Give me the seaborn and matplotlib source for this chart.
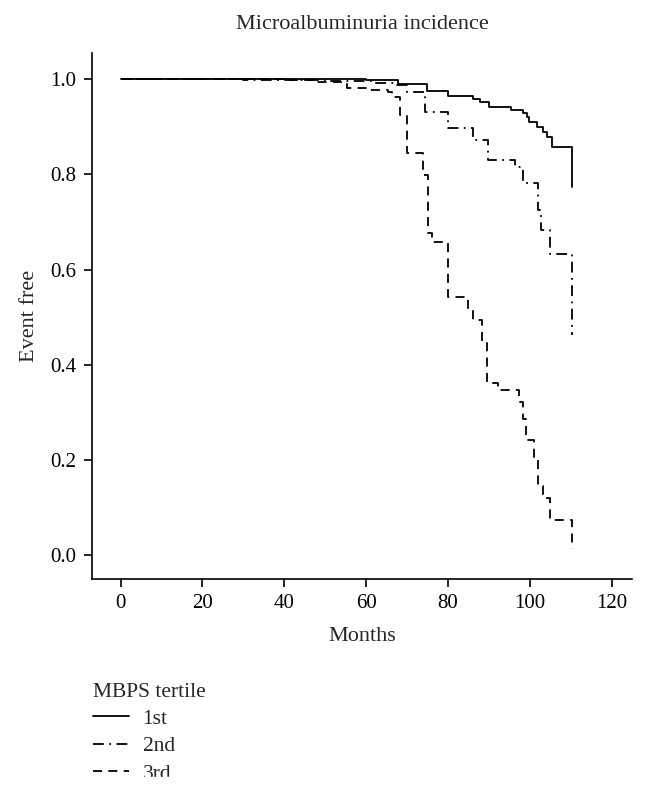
import pandas as pd
import seaborn as sns
import matplotlib.pyplot as plt
from matplotlib.patches import Rectangle

# Kaplan-Meier step points (months, event-free proportion)
t_1st = [0, 60, 67.8, 74.9, 80, 86, 87.8, 90, 95.4, 98.3, 99.2, 99.8, 101.7, 103.2, 104.1, 105.4, 110.2, 110.2]
s_1st = [1.0, 0.998, 0.99, 0.975, 0.964, 0.958, 0.952, 0.941, 0.935, 0.929, 0.92, 0.91, 0.90, 0.889, 0.878, 0.857, 0.857, 0.773]

t_2nd = [0, 30, 50, 62, 67.5, 70, 74.4, 80, 86.1, 89.8, 96.3, 98.3, 101.9, 102.8, 104.9, 110.2, 110.2]
s_2nd = [1.0, 0.998, 0.996, 0.993, 0.987, 0.973, 0.931, 0.897, 0.872, 0.830, 0.815, 0.782, 0.725, 0.683, 0.632, 0.632, 0.462]

t_3rd = [0, 40, 48, 55.4, 60.5, 65.4, 66.3, 68.3, 70, 73.9, 75.1, 76.1, 80, 84.9, 86.1, 88.3, 89.5, 92.2, 97.3,
         98.3, 99.1, 101.0, 101.9, 103.2, 104.9, 110.2, 110.2]
s_3rd = [1.0, 0.998, 0.995, 0.982, 0.977, 0.973, 0.962, 0.924, 0.845, 0.798, 0.676, 0.657, 0.542, 0.519, 0.494,
         0.445, 0.361, 0.347, 0.321, 0.286, 0.242, 0.20, 0.145, 0.12, 0.073, 0.073, 0.013]

groups = ['1st', '2nd', '3rd']
times = [t_1st, t_2nd, t_3rd]
surv = [s_1st, s_2nd, s_3rd]
dashes = {'2nd': (6, 3, 1, 3), '3rd': (5, 3.5)}

sns.set_style('ticks')
plt.rcParams['font.family'] = ['Liberation Serif', 'DejaVu Serif']

fig = plt.figure(figsize=(6.47, 7.92), dpi=100)
ax = fig.add_axes([0.142, 0.269, 0.835, 0.664])

for g, t, s in zip(groups, times, surv):
    df = pd.DataFrame({'Months': t, 'Event free': s})
    kw = {'dashes': dashes[g]} if g in dashes else {}
    sns.lineplot(data=df, x='Months', y='Event free', ax=ax, estimator=None, sort=False,
                 drawstyle='steps-post', color='black', lw=1.3, label=g, **kw)

ax.set_xlim(-7, 125)
ax.set_ylim(-0.05, 1.055)
ax.set_xticks(range(0, 121, 20))
ax.set_yticks([0.0, 0.2, 0.4, 0.6, 0.8, 1.0])
ax.set_yticklabels(['0.0', '0.2', '0.4', '0.6', '0.8', '1.0'])
ax.tick_params(labelsize=15, length=6, width=1.2, pad=5, color='black', labelcolor='black')
for sp in ['left', 'bottom']:
    ax.spines[sp].set_linewidth(1.2)
    ax.spines[sp].set_color('black')
sns.despine(ax=ax)
ax.set_xlabel('Months', fontsize=16, labelpad=10)
ax.set_ylabel('Event free', fontsize=16, labelpad=8)
ax.set_title('Microalbuminuria incidence', fontsize=16, pad=17)

handles, labels = ax.get_legend_handles_labels()
ax.get_legend().remove()
leg = fig.legend(handles, labels, title='MBPS tertile', loc='upper left',
                 bbox_to_anchor=(0.130, 0.149), frameon=False, fontsize=15.5, title_fontsize=15.5,
                 handlelength=1.67, handletextpad=0.65, labelspacing=0.34, borderaxespad=0)
leg._legend_box.align = 'left'

# the reference is cropped just under the legend
fig.add_artist(Rectangle((0, 0), 1, 15 / 792, transform=fig.transFigure, color='white', zorder=10))

fig.savefig('out.png', dpi=100)
